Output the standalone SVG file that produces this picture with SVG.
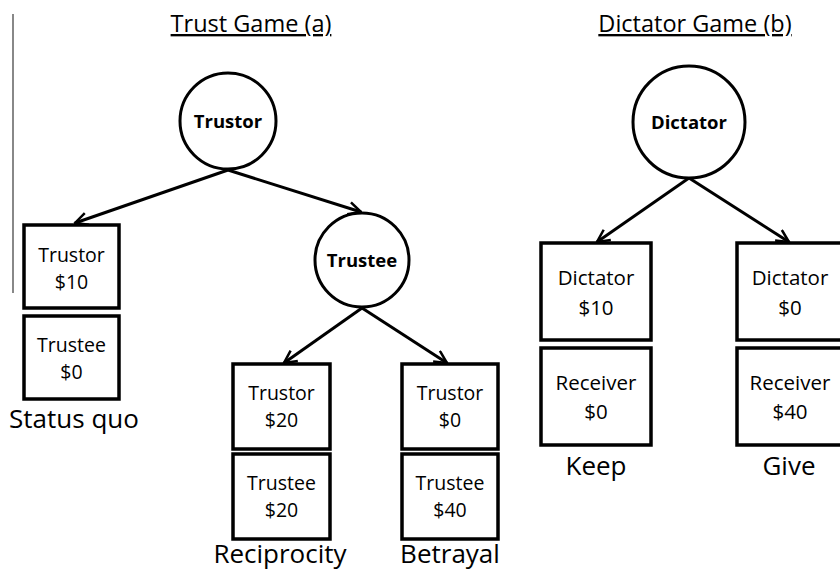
<svg xmlns="http://www.w3.org/2000/svg" width="840" height="572" viewBox="0 0 840 572">
<style>
.t{font-family:"Open Sans","Liberation Sans",sans-serif;fill:#000}
.title{font-size:23.5px;text-anchor:middle;text-decoration:underline}
.c{fill:#fff;stroke:#000;stroke-width:3}
.b{fill:#fff;stroke:#000;stroke-width:3.5}
.cl{font-size:18.5px;font-weight:bold;text-anchor:middle}
.bl{font-size:19.5px;text-anchor:middle}
.dl{font-size:20.5px;text-anchor:middle}
.lab{font-size:26px;text-anchor:middle}
.e{stroke:#000;stroke-width:3;fill:none;marker-end:url(#ah)}
</style>
<defs>
<marker id="ah" viewBox="0 0 12 12" refX="11" refY="6" markerWidth="5" markerHeight="5" markerUnits="strokeWidth" orient="auto">
<path d="M1,1 L11,6 L1,11" fill="none" stroke="#000" stroke-width="2"/>
</marker>
</defs>
<line x1="13" y1="14" x2="13" y2="293" stroke="#888" stroke-width="2"/>
<text class="t title" x="251" y="32">Trust Game (a)</text>
<text class="t title" x="695" y="32">Dictator Game (b)</text>
<g id="connectors">
<line class="e" x1="228" y1="170" x2="75" y2="223"/>
<line class="e" x1="228" y1="170" x2="361" y2="212"/>
<line class="e" x1="362" y1="308" x2="284" y2="363"/>
<line class="e" x1="362" y1="308" x2="447" y2="363"/>
<line class="e" x1="689" y1="178" x2="597" y2="242"/>
<line class="e" x1="689" y1="178" x2="789" y2="242"/>
</g>
<g id="trustor-root">
<circle class="c" cx="228" cy="121" r="48"/>
<text class="t cl" x="228" y="128">Trustor</text>
</g>
<g id="sq-trustor">
<rect class="b" x="24" y="225" width="95" height="83"/>
<text class="t bl" x="71.5" y="262">Trustor</text>
<text class="t bl" x="71.5" y="289">$10</text>
</g>
<g id="sq-trustee">
<rect class="b" x="24" y="316" width="95" height="83"/>
<text class="t bl" x="71.5" y="352">Trustee</text>
<text class="t bl" x="71.5" y="379">$0</text>
</g>
<text class="t lab" x="74" y="428">Status quo</text>
<g id="trustee-node">
<circle class="c" cx="362" cy="260" r="47"/>
<text class="t cl" x="362" y="267">Trustee</text>
</g>
<g id="rec-trustor">
<rect class="b" x="233" y="364" width="97" height="85"/>
<text class="t bl" x="281.5" y="400">Trustor</text>
<text class="t bl" x="281.5" y="427">$20</text>
</g>
<g id="rec-trustee">
<rect class="b" x="233" y="454" width="97" height="85"/>
<text class="t bl" x="281.5" y="490">Trustee</text>
<text class="t bl" x="281.5" y="517">$20</text>
</g>
<text class="t lab" x="280" y="563">Reciprocity</text>
<g id="bet-trustor">
<rect class="b" x="402" y="364" width="96" height="85"/>
<text class="t bl" x="450" y="400">Trustor</text>
<text class="t bl" x="450" y="427">$0</text>
</g>
<g id="bet-trustee">
<rect class="b" x="402" y="454" width="96" height="85"/>
<text class="t bl" x="450" y="490">Trustee</text>
<text class="t bl" x="450" y="517">$40</text>
</g>
<text class="t lab" x="450" y="563">Betrayal</text>
<g id="dictator-root">
<circle class="c" cx="689" cy="122" r="56"/>
<text class="t cl" x="689" y="129">Dictator</text>
</g>
<g id="keep-dictator">
<rect class="b" x="541" y="243" width="110" height="97"/>
<text class="t dl" x="596" y="285">Dictator</text>
<text class="t dl" x="596" y="315">$10</text>
</g>
<g id="keep-receiver">
<rect class="b" x="541" y="348" width="110" height="97"/>
<text class="t dl" x="596" y="390">Receiver</text>
<text class="t dl" x="596" y="419">$0</text>
</g>
<text class="t lab" x="596" y="475">Keep</text>
<g id="give-dictator">
<rect class="b" x="737" y="243" width="110" height="97"/>
<text class="t dl" x="790" y="285">Dictator</text>
<text class="t dl" x="790" y="315">$0</text>
</g>
<g id="give-receiver">
<rect class="b" x="737" y="348" width="110" height="97"/>
<text class="t dl" x="790" y="390">Receiver</text>
<text class="t dl" x="790" y="419">$40</text>
</g>
<text class="t lab" x="789" y="475">Give</text>
</svg>
